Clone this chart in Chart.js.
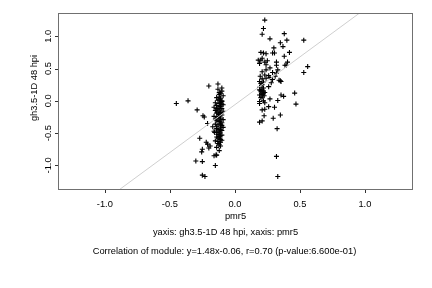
<!DOCTYPE html>
<html lang="en">
<head>
  <meta charset="UTF-8">
  <title>gh3.5-1D 48 hpi vs pmr5</title>
  <script src="https://cdn.jsdelivr.net/npm/chart.js"></script>
  <style>
    html, body { margin: 0; padding: 0; background: #fff; }
    #wrap { width: 432px; height: 288px; }
  </style>
</head>
<body>
<div id="wrap"><canvas id="plot" width="432" height="288"></canvas></div>
<script>
  // pmr5 (x) and gh3.5-1D 48 hpi (y)
  const pmr5 = [
    -0.45, -0.36, -0.29, -0.245, -0.235, -0.20, -0.13, -0.21, -0.27, -0.22, -0.21, -0.25, -0.255, -0.20, -0.19,
    -0.30, -0.25, -0.16, -0.145, -0.15, -0.25, -0.23, -0.17, -0.155, -0.13, -0.115, -0.11, -0.12, -0.13, -0.11,
    -0.12, -0.115, -0.125, -0.14,
    -0.10, -0.12, -0.09, -0.14, -0.11, -0.13, -0.10, -0.15, -0.12, -0.09, -0.14, -0.11, -0.16, -0.13, -0.10,
    -0.12, -0.15, -0.09, -0.11, -0.14, -0.12, -0.10, -0.16, -0.13, -0.11, -0.09, -0.14, -0.12, -0.10, -0.15,
    -0.13, -0.11, -0.09, -0.14, -0.12, -0.10, -0.16, -0.13, -0.11, -0.14, -0.12, -0.10, -0.15, -0.13, -0.11,
    -0.14, -0.12, -0.10, -0.13, -0.11, -0.12, -0.10, -0.14, -0.11,
    -0.12, -0.10, -0.13, -0.11, -0.15, -0.12, -0.10, -0.14, -0.12, -0.11, -0.13, -0.10, -0.12, -0.14, -0.11,
    0.23, 0.22, 0.21, 0.27, 0.38, 0.40, 0.35, 0.53, 0.37, 0.30, 0.42, 0.305, 0.29, 0.24, 0.22,
    0.20, 0.38, 0.18, 0.20, 0.23, 0.32, 0.405, 0.385, 0.395, 0.56, 0.53, 0.32, 0.27, 0.24, 0.33,
    0.21, 0.29, 0.32, 0.26, 0.195, 0.24, 0.29, 0.35, 0.355, 0.19, 0.22, 0.28, 0.26, 0.19, 0.21,
    0.20, 0.21, 0.19, 0.225, 0.21, 0.355, 0.375, 0.46, 0.47, 0.27, 0.33, 0.19, 0.22, 0.19, 0.23,
    0.26, 0.305, 0.23, 0.21, 0.35, 0.225, 0.295, 0.19, 0.21, 0.325, 0.32, 0.33,
    0.20, 0.22, 0.21, 0.23, 0.20, 0.22, 0.21, 0.19, 0.21, 0.25, 0.23, 0.27, 0.31, 0.34,
    0.20, 0.22, 0.19, 0.21, 0.24
  ];
  const gh35 = [
    -0.04, 0.00, -0.14, -0.23, -0.25, 0.23, 0.26, -0.35, -0.58, -0.64, -0.67, -0.75, -0.79, -0.73, -0.70,
    -0.93, -0.94, -0.85, -0.84, -1.00, -1.15, -1.17, -0.40, -0.49, -0.45, -0.50, -0.60, -0.68, -0.63, 0.12,
    0.015, -0.09, -0.24, -0.84,
    0.15, 0.10, 0.08, 0.05, 0.04, 0.01, -0.01, -0.03, -0.04, -0.06, -0.07, -0.08, -0.10, -0.11, -0.12,
    -0.14, -0.15, -0.16, -0.18, -0.19, -0.21, -0.22, -0.24, -0.26, -0.27, -0.29, -0.30, -0.32, -0.34, -0.36,
    -0.37, -0.39, -0.41, -0.43, -0.44, -0.46, -0.47, -0.52, -0.54, -0.56, -0.58, -0.61, -0.62, -0.66, -0.70,
    -0.72, -0.77, 0.20, 0.18, -0.03, -0.48, -0.53, -0.49, -0.36,
    0.06, -0.05, -0.17, -0.20, -0.28, -0.31, -0.38, -0.40, -0.55, -0.64, -0.57, 0.00, 0.13, -0.12, -0.45,
    1.25, 1.12, 1.03, 0.96, 1.04, 0.94, 0.90, 0.94, 0.84, 0.82, 0.75, 0.74, 0.74, 0.73, 0.74,
    0.75, 0.69, 0.63, 0.63, 0.60, 0.60, 0.60, 0.55, 0.55, 0.53, 0.44, 0.55, 0.51, 0.48, 0.48,
    0.45, 0.44, 0.43, 0.39, 0.38, 0.35, 0.33, 0.31, 0.30, 0.30, 0.29, 0.28, 0.22, 0.21, 0.18,
    0.14, 0.12, 0.09, 0.08, 0.06, 0.09, 0.07, 0.12, -0.05, 0.03, 0.005, -0.01, 0.00, -0.04, -0.03,
    -0.09, -0.10, -0.13, -0.14, -0.22, -0.23, -0.27, -0.33, -0.31, -0.43, -0.86, -1.17,
    0.16, 0.15, 0.10, 0.13, 0.05, 0.20, 0.25, 0.58, 0.66, 0.62, 0.40, 0.36, 0.38, 0.32,
    0.27, 0.11, 0.17, 0.34, 0.56
  ];

  const xTicks = [-1.0, -0.5, 0.0, 0.5, 1.0];
  const yTicks = [-1.0, -0.5, 0.0, 0.5, 1.0];
  const xRange = [-1.36, 1.37];
  const yRange = [-1.38, 1.36];
  const slope = 1.48, intercept = -0.06;

  const xLabel = 'pmr5';
  const yLabel = 'gh3.5-1D 48 hpi';
  const subTitle = 'yaxis: gh3.5-1D 48 hpi, xaxis: pmr5';
  const mainNote = 'Correlation of module: y=1.48x-0.06, r=0.70 (p-value:6.600e-01)';

  const points = pmr5.map((x, i) => ({ x, y: gh35[i] }));
  const fitLine = xRange.map(x => ({ x, y: slope * x + intercept }));

  const FONT = '9.3px "Liberation Sans", Arial, sans-serif';

  // R-style frame, ticks and labels drawn on top of the chart area
  const rAxes = {
    id: 'rAxes',
    afterDraw(chart) {
      const { ctx, chartArea: a, scales } = chart;
      const sx = scales.x, sy = scales.y;
      ctx.save();
      ctx.strokeStyle = '#707070';
      ctx.lineWidth = 1;
      ctx.strokeRect(a.left + 0.5, a.top + 0.5, a.right - a.left - 1, a.bottom - a.top - 1);

      ctx.strokeStyle = '#333';
      ctx.fillStyle = '#000';
      ctx.font = FONT;
      ctx.textAlign = 'center';
      ctx.textBaseline = 'middle';
      ctx.beginPath();
      xTicks.forEach(v => {
        const px = Math.round(sx.getPixelForValue(v)) + 0.5;
        ctx.moveTo(px, a.bottom);
        ctx.lineTo(px, a.bottom + 3);
      });
      yTicks.forEach(v => {
        const py = Math.round(sy.getPixelForValue(v)) + 0.5;
        ctx.moveTo(a.left, py);
        ctx.lineTo(a.left - 3, py);
      });
      ctx.stroke();

      xTicks.forEach(v => {
        ctx.fillText(v.toFixed(1), sx.getPixelForValue(v), a.bottom + 14);
      });
      yTicks.forEach(v => {
        ctx.save();
        ctx.translate(a.left - 10, sy.getPixelForValue(v));
        ctx.rotate(-Math.PI / 2);
        ctx.fillText(v.toFixed(1), 0, 0);
        ctx.restore();
      });

      const cx = (a.left + a.right) / 2;
      ctx.fillText(xLabel, cx, a.bottom + 26);
      ctx.fillText(subTitle, cx - 10, a.bottom + 42);
      ctx.fillText(mainNote, cx - 11, a.bottom + 61);

      ctx.save();
      ctx.translate(a.left - 24, 88);
      ctx.rotate(-Math.PI / 2);
      ctx.fillText(yLabel, 0, 0);
      ctx.restore();
      ctx.restore();
    }
  };

  new Chart(document.getElementById('plot'), {
    type: 'scatter',
    data: {
      datasets: [
        {
          type: 'line',
          data: fitLine,
          borderColor: '#cfcfcf',
          borderWidth: 1,
          pointRadius: 0,
          fill: false
        },
        {
          data: points,
          pointStyle: 'cross',
          pointRadius: 2.5,
          pointBorderWidth: 1.1,
          borderColor: '#000',
          backgroundColor: '#000'
        }
      ]
    },
    options: {
      responsive: false,
      animation: false,
      layout: { padding: { left: 58, top: 13, right: 19, bottom: 98 } },
      plugins: { legend: { display: false }, tooltip: { enabled: false } },
      scales: {
        x: { type: 'linear', min: xRange[0], max: xRange[1], display: false },
        y: { type: 'linear', min: yRange[0], max: yRange[1], display: false }
      }
    },
    plugins: [rAxes]
  });
</script>
</body>
</html>
